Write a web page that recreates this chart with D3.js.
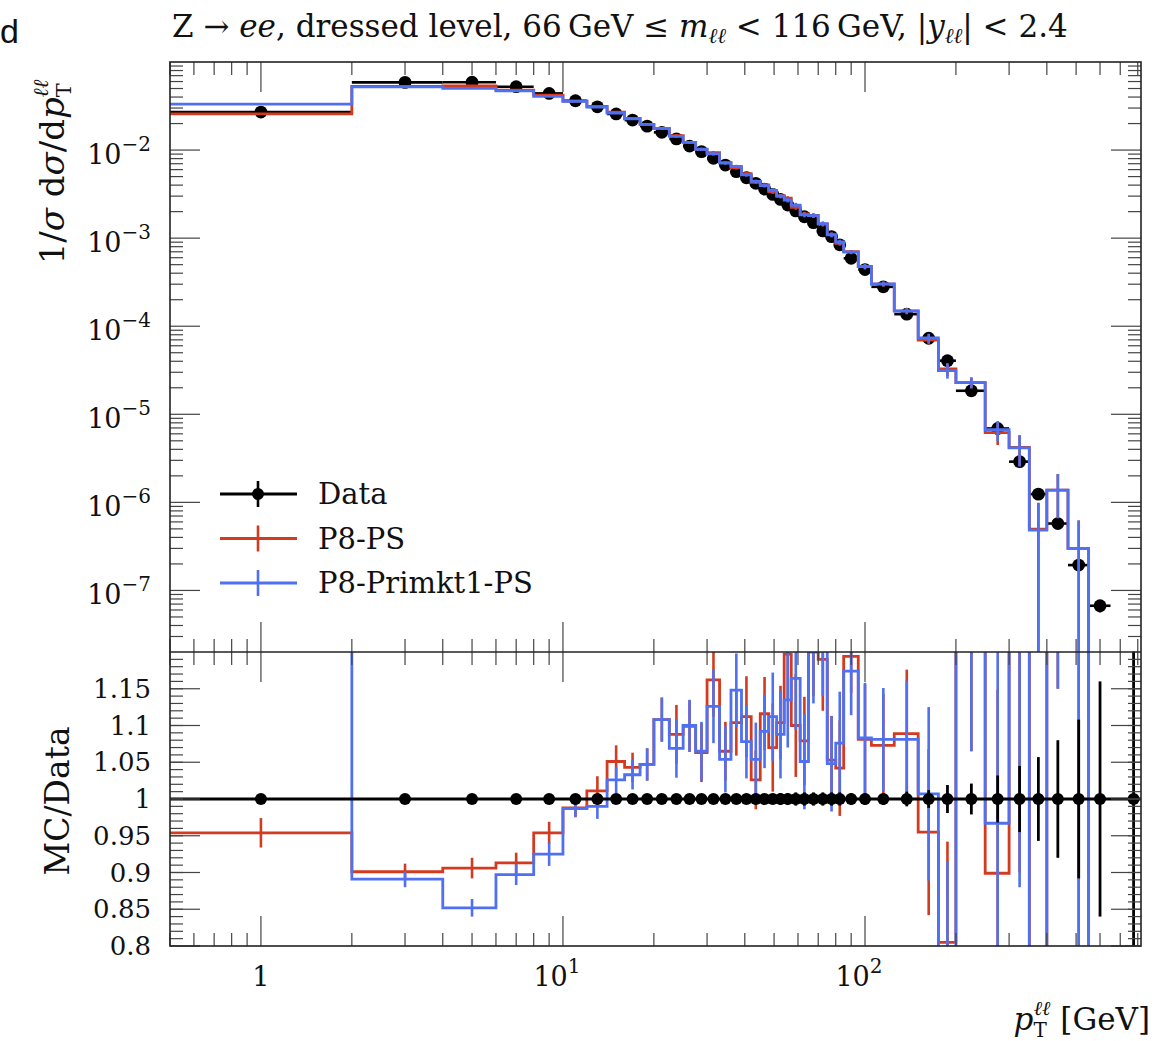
<!DOCTYPE html>
<html>
<head>
<meta charset="utf-8">
<script src="https://cdn.jsdelivr.net/npm/d3@7"></script>
<style>
  body { margin: 0; background: #fff; }
  text { font-family: "DejaVu Serif", "Liberation Serif", serif; fill: #111; }
</style>
</head>
<body>
<svg id="chart" width="1174" height="1041"></svg>
<script>
// bin edges in pT [GeV]
var binEdges = [0, 2, 4, 6, 8, 10, 12, 14, 16, 18, 20, 22.5, 25, 27.5, 30, 33, 36, 39, 42, 45, 48, 51, 54, 57,
  61, 65, 70, 75, 80, 85, 95, 105, 125, 150, 175, 200, 250, 300, 350, 400, 470, 550, 650, 900];

// measured 1/sigma dsigma/dpT
var dataVals = [0.027, 0.0587, 0.059, 0.0524, 0.044, 0.0363, 0.031, 0.0257, 0.0219, 0.0187,
  0.0159, 0.0134, 0.0111, 0.0096, 0.00806, 0.00676, 0.00568, 0.00485, 0.00419, 0.00361,
  0.00314, 0.00275, 0.00238, 0.00204, 0.00175, 0.0015, 0.00121, 0.00104, 0.00084, 0.00059,
  0.00044, 0.00028, 0.000137, 7.3e-5, 4.06e-5, 1.85e-5, 6.9e-6, 2.9e-6, 1.24e-6, 5.75e-7,
  1.94e-7, 6.7e-8, 1.5e-8];
// data uncertainty, relative
var dataErr = [0.004, 0.004, 0.004, 0.004, 0.004, 0.004, 0.004, 0.004, 0.004, 0.004,
  0.005, 0.005, 0.005, 0.005, 0.005, 0.005, 0.006, 0.006, 0.006, 0.006,
  0.007, 0.008, 0.008, 0.009, 0.009, 0.009, 0.009, 0.009, 0.009, 0.008,
  0.008, 0.008, 0.01, 0.012, 0.019, 0.021, 0.032, 0.045, 0.057, 0.08,
  0.108, 0.16, 0.35];

// MC / Data, P8-PS
var psRatio = [0.954, 0.901, 0.906, 0.913, 0.954, 0.988, 1.011, 1.051, 1.043, 1.047,
  1.108, 1.088, 1.099, 1.063, 1.162, 1.065, 1.104, 1.112, 1.026, 1.116,
  1.070, 1.104, 1.197, 1.100, 1.079, 1.21, 1.19, 1.053, 1.042, 1.194,
  1.081, 1.073, 1.089, 0.955, 0.805, 1.24, 0.899, 1.45, 0.40, 2.4,
  1.55, 0, 0];
var psErr = [0.02, 0.011, 0.014, 0.014, 0.015, 0.012, 0.02, 0.022, 0.02, 0.022,
  0.03, 0.04, 0.035, 0.04, 0.05, 0.04, 0.045, 0.055, 0.04, 0.05,
  0.06, 0.05, 0.06, 0.07, 0.06, 0.07, 0.07, 0.06, 0.065, 0.05,
  0.075, 0.07, 0.087, 0.113, 0.137, 0.175, 0.25, 0.55, 0.4, 1.25,
  1.65, 0, 0];

// MC / Data, P8-Primkt1-PS
var primktRatio = [1.23, 0.891, 0.852, 0.897, 0.925, 0.987, 0.990, 1.026, 1.033, 1.047,
  1.108, 1.069, 1.100, 1.065, 1.126, 1.054, 1.148, 1.078, 1.054, 1.092,
  1.112, 1.088, 1.135, 1.164, 1.051, 1.20, 1.21, 1.048, 1.076, 1.174,
  1.083, 1.081, 1.081, 1.007, 0.77, 1.24, 0.967, 1.43, 0.39, 2.4,
  1.55, 0, 0];
var primktErr = [0.025, 0.011, 0.012, 0.014, 0.016, 0.012, 0.017, 0.018, 0.02, 0.022,
  0.03, 0.04, 0.035, 0.04, 0.05, 0.045, 0.05, 0.05, 0.05, 0.05,
  0.06, 0.06, 0.065, 0.07, 0.065, 0.07, 0.07, 0.065, 0.07, 0.06,
  0.075, 0.07, 0.08, 0.118, 0.145, 0.175, 0.25, 0.55, 0.4, 1.25,
  1.65, 0, 0];

var xTickLabels = [{ v: 1, base: "1", sup: "" }, { v: 10, base: "10", sup: "1" }, { v: 100, base: "10", sup: "2" }];
var yTopExps = [-2, -3, -4, -5, -6, -7];
var ratioTickLabels = ["0.8", "0.85", "0.9", "0.95", "1", "1.05", "1.1", "1.15"];

var RED = "#d23b1f", BLUE = "#4f70f0";
var L = 170, R = 1141, T1 = 62, B1 = 652, B2 = 946;

var svg = d3.select("#chart");
var x = d3.scaleLog().domain([0.5, 820]).range([L, R]);
var yTop = d3.scaleLog().domain([2e-8, 0.1]).range([B1, T1]);
var yRat = d3.scaleLinear().domain([0.8, 1.2]).range([B2, B1]);
var xe = function(v) { return x(Math.max(v, 0.3)); };
var yt = function(v) { return yTop(Math.max(v, 1e-10)); };

var defs = svg.append("defs");
defs.append("clipPath").attr("id", "clipTop").append("rect")
  .attr("x", L).attr("y", T1).attr("width", R - L).attr("height", B1 - T1);
defs.append("clipPath").attr("id", "clipRat").append("rect")
  .attr("x", L).attr("y", B1).attr("width", R - L).attr("height", B2 - B1);

var centers = dataVals.map(function(d, i) { return (binEdges[i] + binEdges[i + 1]) / 2; });

function stepPts(vals) {
  var pts = vals.map(function(v, i) { return [binEdges[i], v]; });
  pts.push([binEdges[vals.length], vals[vals.length - 1]]);
  return pts;
}

var topG = svg.append("g").attr("clip-path", "url(#clipTop)");
var ratG = svg.append("g").attr("clip-path", "url(#clipRat)");

// ---------- top panel ----------
// data
topG.selectAll(".dx").data(dataVals).enter().append("line")
  .attr("x1", function(d, i) { return xe(binEdges[i]); })
  .attr("x2", function(d, i) { return xe(binEdges[i + 1]); })
  .attr("y1", function(d) { return yt(d); }).attr("y2", function(d) { return yt(d); })
  .attr("stroke", "#000").attr("stroke-width", 2.6);
topG.selectAll(".dy").data(dataVals).enter().append("line")
  .attr("x1", function(d, i) { return x(centers[i]); })
  .attr("x2", function(d, i) { return x(centers[i]); })
  .attr("y1", function(d, i) { return yt(d * (1 + dataErr[i])); })
  .attr("y2", function(d, i) { return yt(d * (1 - dataErr[i])); })
  .attr("stroke", "#000").attr("stroke-width", 2.6);
topG.selectAll(".dp").data(dataVals).enter().append("circle")
  .attr("cx", function(d, i) { return x(centers[i]); })
  .attr("cy", function(d) { return yt(d); })
  .attr("r", 6.4).attr("fill", "#000");

var lineTop = d3.line()
  .x(function(d) { return xe(d[0]); })
  .y(function(d) { return yt(d[1]); })
  .curve(d3.curveStepAfter);

function drawMCTop(ratio, err, color) {
  var vals = ratio.map(function(r, i) { return r * dataVals[i]; });
  topG.append("path").datum(stepPts(vals)).attr("d", lineTop)
    .attr("fill", "none").attr("stroke", color).attr("stroke-width", 2.8);
  var bars = vals.map(function(v, i) { return { c: centers[i], v: v, e: err[i] * dataVals[i] }; })
    .filter(function(b) { return b.v > 0; });
  topG.selectAll(null).data(bars).enter().append("line")
    .attr("x1", function(b) { return x(b.c); })
    .attr("x2", function(b) { return x(b.c); })
    .attr("y1", function(b) { return yt(b.v + b.e); })
    .attr("y2", function(b) { return yt(b.v - b.e); })
    .attr("stroke", color).attr("stroke-width", 2.6);
}
drawMCTop(psRatio, psErr, RED);
drawMCTop(primktRatio, primktErr, BLUE);

// ---------- ratio panel ----------
var lineRat = d3.line()
  .x(function(d) { return xe(d[0]); })
  .y(function(d) { return yRat(d[1]); })
  .curve(d3.curveStepAfter);

function drawMCRat(ratio, err, color) {
  ratG.append("path").datum(stepPts(ratio)).attr("d", lineRat)
    .attr("fill", "none").attr("stroke", color).attr("stroke-width", 2.8);
  ratG.selectAll(null).data(ratio).enter().append("line")
    .attr("x1", function(d, i) { return x(centers[i]); })
    .attr("x2", function(d, i) { return x(centers[i]); })
    .attr("y1", function(d, i) { return yRat(d + err[i]); })
    .attr("y2", function(d, i) { return yRat(d - err[i]); })
    .attr("stroke", color).attr("stroke-width", 2.6);
}
drawMCRat(psRatio, psErr, RED);
drawMCRat(primktRatio, primktErr, BLUE);

ratG.append("line").attr("x1", L).attr("x2", R)
  .attr("y1", yRat(1)).attr("y2", yRat(1))
  .attr("stroke", "#000").attr("stroke-width", 2.8);
ratG.selectAll(".ry").data(dataErr).enter().append("line")
  .attr("x1", function(d, i) { return x(centers[i]); })
  .attr("x2", function(d, i) { return x(centers[i]); })
  .attr("y1", function(d) { return yRat(1 + d); })
  .attr("y2", function(d) { return yRat(1 - d); })
  .attr("stroke", "#000").attr("stroke-width", 2.8);
ratG.selectAll(".rp").data(centers).enter().append("circle")
  .attr("cx", function(d) { return x(d); }).attr("cy", yRat(1))
  .attr("r", 6).attr("fill", "#000");

// ---------- ticks ----------
var tickG = svg.append("g").attr("stroke", "#444").attr("stroke-width", 1.2);
var xMinor = [];
[0.1, 1, 10, 100].forEach(function(dec) {
  for (var m = 2; m <= 9; m++) {
    var v = m * dec;
    if (v >= 0.5 && v <= 820) xMinor.push(v);
  }
});
var xMajor = xTickLabels.map(function(t) { return t.v; });
[[T1, 1], [B1, -1], [B1, 1], [B2, -1]].forEach(function(p) {
  tickG.selectAll(null).data(xMinor).enter().append("line")
    .attr("x1", function(d) { return x(d); }).attr("x2", function(d) { return x(d); })
    .attr("y1", p[0]).attr("y2", p[0] + p[1] * 13);
  tickG.selectAll(null).data(xMajor).enter().append("line")
    .attr("x1", function(d) { return x(d); }).attr("x2", function(d) { return x(d); })
    .attr("y1", p[0]).attr("y2", p[0] + p[1] * 30);
});

var yMinorTop = [];
for (var e = -8; e <= -2; e++) {
  for (var m = 2; m <= 9; m++) {
    var v = m * Math.pow(10, e);
    if (v > 2e-8 && v < 0.1) yMinorTop.push(v);
  }
}
var yMajorTop = yTopExps.map(function(k) { return Math.pow(10, k); });
[[L, 1], [R, -1]].forEach(function(p) {
  tickG.selectAll(null).data(yMinorTop).enter().append("line")
    .attr("y1", function(d) { return yTop(d); }).attr("y2", function(d) { return yTop(d); })
    .attr("x1", p[0]).attr("x2", p[0] + p[1] * 13);
  tickG.selectAll(null).data(yMajorTop).enter().append("line")
    .attr("y1", function(d) { return yTop(d); }).attr("y2", function(d) { return yTop(d); })
    .attr("x1", p[0]).attr("x2", p[0] + p[1] * 30);
});

var ratMinor = d3.range(81, 120).map(function(k) { return k / 100; });
var ratMajor = ratioTickLabels.map(Number);
[[L, 1], [R, -1]].forEach(function(p) {
  tickG.selectAll(null).data(ratMinor).enter().append("line")
    .attr("y1", function(d) { return yRat(d); }).attr("y2", function(d) { return yRat(d); })
    .attr("x1", p[0]).attr("x2", p[0] + p[1] * 13);
  tickG.selectAll(null).data(ratMajor).enter().append("line")
    .attr("y1", function(d) { return yRat(d); }).attr("y2", function(d) { return yRat(d); })
    .attr("x1", p[0]).attr("x2", p[0] + p[1] * 30);
});

// frames
svg.append("rect").attr("x", L).attr("y", T1).attr("width", R - L).attr("height", B2 - T1)
  .attr("fill", "none").attr("stroke", "#222").attr("stroke-width", 1.6);
svg.append("line").attr("x1", L).attr("x2", R).attr("y1", B1).attr("y2", B1)
  .attr("stroke", "#222").attr("stroke-width", 1.6);

// ---------- tick labels ----------
xTickLabels.forEach(function(t) {
  var tx = svg.append("text").attr("x", x(t.v) - (t.sup ? 6 : 0)).attr("y", 986)
    .attr("text-anchor", "middle").attr("font-size", 27).text(t.base);
  if (t.sup) tx.append("tspan").attr("dy", -13).attr("font-size", 20).text(t.sup);
});
yTopExps.forEach(function(k) {
  var tx = svg.append("text").attr("x", 151).attr("y", yTop(Math.pow(10, k)) + 14)
    .attr("text-anchor", "end").attr("font-size", 27).text("10");
  tx.append("tspan").attr("dy", -13).attr("font-size", 20).text("\u2212" + (-k));
});
ratioTickLabels.forEach(function(s) {
  svg.append("text").attr("x", 151).attr("y", yRat(+s) + 9)
    .attr("text-anchor", "end").attr("font-size", 26).text(s);
});

// ---------- titles ----------
svg.append("text").attr("x", 0).attr("y", 43)
  .style("font-family", "'Liberation Sans', Arial, sans-serif").attr("font-size", 34).text("d");

var title = svg.append("text").attr("x", 172).attr("y", 37).attr("font-size", 31);
title.append("tspan").text("Z \u2192 ");
title.append("tspan").attr("font-style", "italic").text("ee");
title.append("tspan").text(", dressed level, 66\u2009GeV \u2264 ");
title.append("tspan").attr("font-style", "italic").text("m");
title.append("tspan").attr("font-style", "italic").attr("font-size", 21).attr("dy", 6).text("\u2113\u2113");
title.append("tspan").attr("dy", -6).text(" < 116\u2009GeV, |");
title.append("tspan").attr("font-style", "italic").text("y");
title.append("tspan").attr("font-style", "italic").attr("font-size", 21).attr("dy", 6).text("\u2113\u2113");
title.append("tspan").attr("dy", -6).text("| < 2.4");

var yl = svg.append("text").attr("transform", "translate(64,172) rotate(-90)")
  .attr("text-anchor", "middle").attr("font-size", 34);
yl.append("tspan").text("1/");
yl.append("tspan").attr("font-style", "italic").text("\u03c3");
yl.append("tspan").text(" d");
yl.append("tspan").attr("font-style", "italic").text("\u03c3");
yl.append("tspan").text("/d");
yl.append("tspan").attr("font-style", "italic").text("p");
yl.append("tspan").attr("font-size", 21).attr("dy", 7).text("T");
yl.append("tspan").attr("font-size", 21).attr("font-style", "italic").attr("dx", -14).attr("dy", -23).text("\u2113\u2113");

svg.append("text").attr("transform", "translate(69,801) rotate(-90)")
  .attr("text-anchor", "middle").attr("font-size", 33).text("MC/Data");

var xl = svg.append("text").attr("x", 1150).attr("y", 1030).attr("text-anchor", "end").attr("font-size", 31);
xl.append("tspan").attr("font-style", "italic").text("p");
xl.append("tspan").attr("font-size", 20).attr("dy", 7).text("T");
xl.append("tspan").attr("font-size", 20).attr("font-style", "italic").attr("dx", -13).attr("dy", -22).text("\u2113\u2113");
xl.append("tspan").attr("dy", 15).text(" [GeV]");

// ---------- legend ----------
var legendRows = [
  { label: "Data", color: "#000", dot: true },
  { label: "P8-PS", color: RED, dot: false },
  { label: "P8-Primkt1-PS", color: BLUE, dot: false }
];
var lg = svg.append("g");
legendRows.forEach(function(row, i) {
  var cy = 494 + i * 44.5;
  lg.append("line").attr("x1", 220).attr("x2", 297).attr("y1", cy).attr("y2", cy)
    .attr("stroke", row.color).attr("stroke-width", 2.8);
  lg.append("line").attr("x1", 258).attr("x2", 258).attr("y1", cy - 13).attr("y2", cy + 13)
    .attr("stroke", row.color).attr("stroke-width", 2.6);
  if (row.dot) lg.append("circle").attr("cx", 258).attr("cy", cy).attr("r", 6).attr("fill", "#000");
  lg.append("text").attr("x", 318).attr("y", cy + 10).attr("font-size", 29).text(row.label);
});
</script>
</body>
</html>
